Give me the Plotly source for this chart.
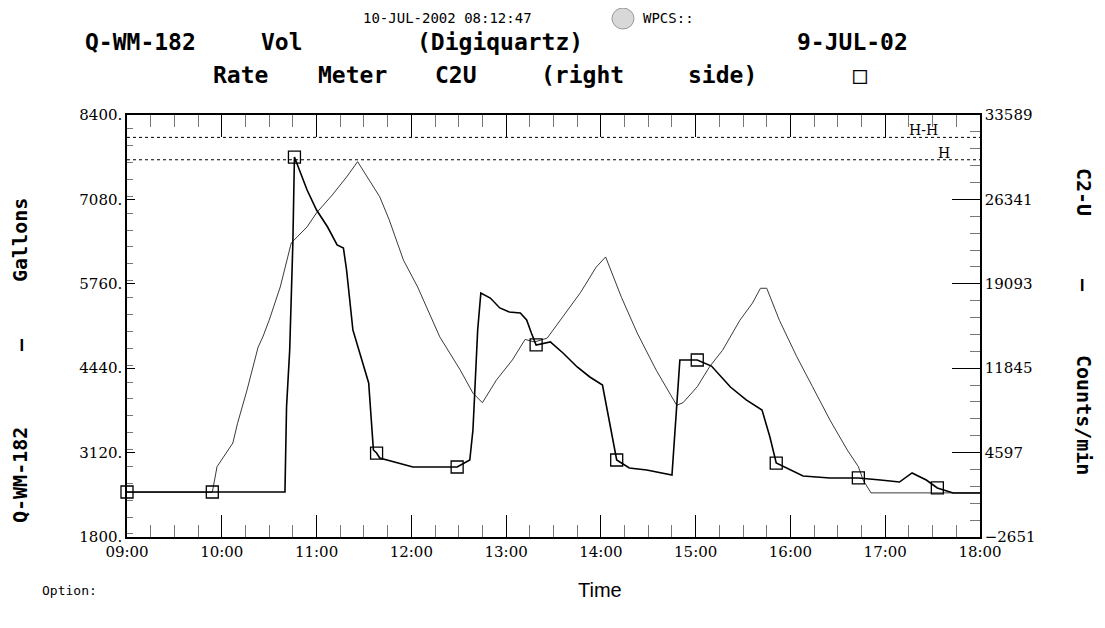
import plotly.graph_objects as go

DAY = "2002-07-09 "

# ---- Q-WM-182 volume (left axis, gallons) ----
vol_times = ["09:00", "09:54", "09:57", "10:07", "10:10", "10:16", "10:23", "10:26", "10:30",
             "10:37", "10:44", "10:54", "11:00", "11:10", "11:19", "11:26", "11:40", "11:46",
             "11:55", "12:04", "12:18", "12:31", "12:39", "12:45", "12:54", "13:04", "13:12",
             "13:18", "13:26", "13:36", "13:47", "13:57", "14:03", "14:13", "14:23", "14:35",
             "14:48", "14:52", "15:01", "15:09", "15:17", "15:28", "15:36", "15:41", "15:45",
             "15:53", "16:04", "16:14", "16:25", "16:36", "16:43", "16:46", "16:51", "18:00"]
vol_gallons = [2500, 2500, 2900, 3270, 3580, 4100, 4770, 4930, 5190,
               5710, 6400, 6650, 6870, 7150, 7430, 7670, 7120, 6760,
               6130, 5710, 4930, 4410, 4050, 3900, 4260, 4570, 4890,
               4850, 4910, 5240, 5620, 6020, 6180, 5550, 4990, 4410,
               3860, 3900, 4150, 4470, 4720, 5190, 5460, 5690, 5690,
               5190, 4620, 4150, 3630, 3160, 2900, 2690, 2490, 2490]

# ---- C2U rate meter (right axis, counts/min) ----
rate_times = ["09:00", "09:54", "10:40", "10:41", "10:43", "10:45", "10:46", "10:54", "11:00",
              "11:07", "11:13", "11:17", "11:19", "11:23", "11:29", "11:33", "11:36", "11:38",
              "11:40", "12:01", "12:18", "12:29", "12:37", "12:39", "12:40", "12:42", "12:44",
              "12:50", "12:56", "13:02", "13:09", "13:13", "13:16", "13:19", "13:28", "13:36",
              "13:45", "13:53", "14:01", "14:04", "14:07", "14:10", "14:18", "14:29", "14:45",
              "14:48", "14:50", "15:01", "15:10", "15:22", "15:32", "15:42", "15:47", "15:51",
              "16:00", "16:08", "16:25", "16:43", "16:57", "17:09", "17:17", "17:26", "17:33",
              "17:43", "18:00"]
rate_counts = [1214, 1214, 1214, 8500, 13400, 22600, 29980, 27150, 25430,
               23970, 22430, 22170, 20280, 15130, 12290, 10580, 4820, 4560,
               4130, 3360, 3360, 3360, 3960, 6540, 9370, 15130, 18300,
               17870, 17020, 16670, 16590, 15990, 14870, 13840, 14100, 13150,
               11950, 11090, 10400, 8260, 5940, 3960, 3280, 3100, 2670,
               8510, 12550, 12550, 12030, 10230, 9120, 8260, 5940, 3700,
               3100, 2590, 2420, 2420, 2240, 2070, 2850, 2240, 1560,
               1130, 1130]

mark_times = ["09:00", "09:54", "10:46", "11:38", "12:29", "13:19", "14:10", "15:01",
              "15:51", "16:43", "17:33"]
mark_counts = [1214, 1214, 29980, 4560, 3360, 13840, 3960, 12550, 3700, 2420, 1560]

# alarm limits (left axis, gallons)
limit_names = ["H-H", "H"]
limit_values = [8050, 7700]

# page body margin of the browser (8px) shifts the figure; compensate
OFF = 8
W, H = 1105 - OFF, 628 - OFF
# plot-area edges in screenshot pixels
L, R, T, B = 127, 980, 115, 537


def px(x):
    return (x - L) / (R - L)


def py(y):
    return (B - y) / (B - T)


fig = go.Figure()
fig.add_trace(go.Scatter(
    x=[DAY + t for t in vol_times], y=vol_gallons, mode="lines",
    line=dict(color="#3a3a3a", width=1), name="Q-WM-182 Vol", yaxis="y"))
fig.add_trace(go.Scatter(
    x=[DAY + t for t in rate_times], y=rate_counts, mode="lines",
    line=dict(color="black", width=1.6), name="Rate Meter C2U", yaxis="y2"))
fig.add_trace(go.Scatter(
    x=[DAY + t for t in mark_times], y=mark_counts, mode="markers",
    marker=dict(symbol="square-open", size=12, color="black", line=dict(width=1.3)),
    cliponaxis=False, yaxis="y2", showlegend=False))

tick_font = dict(family="DejaVu Serif", size=15, color="black")

fig.update_layout(
    width=W, height=H,
    margin=dict(l=L - OFF, r=W - (R - OFF), t=T - OFF, b=H - (B - OFF), pad=0),
    paper_bgcolor="white", plot_bgcolor="white",
    showlegend=False,
    xaxis=dict(
        type="date",
        range=[DAY + "09:00", DAY + "18:00"],
        tickmode="linear", tick0=DAY + "09:00", dtick=3600000,
        tickformat="%H:%M",
        ticks="inside", ticklen=22, tickwidth=1.3, tickcolor="black",
        minor=dict(dtick=900000, ticks="inside", ticklen=12, tickwidth=1, tickcolor="#777"),
        showline=True, linecolor="black", linewidth=1.5, mirror="ticks",
        showgrid=False, zeroline=False, tickfont=tick_font),
    yaxis=dict(
        range=[1800, 8400], tickmode="linear", tick0=1800, dtick=1320,
        ticksuffix=".", tickformat="d", ticks="inside", ticklen=8, tickcolor="black",
        minor=dict(dtick=264, ticks="inside", ticklen=6, tickcolor="#777"),
        showline=True, linecolor="black", linewidth=1.5,
        showgrid=False, zeroline=False, tickfont=tick_font),
    yaxis2=dict(
        range=[-2651, 33589], overlaying="y", side="right",
        tickmode="linear", tick0=-2651, dtick=7248, tickformat="d",
        ticks="inside", ticklen=28, tickcolor="black",
        minor=dict(tick0=-2651, dtick=1449.6, ticks="inside", ticklen=10, tickcolor="#777"),
        showline=True, linecolor="black", linewidth=1.5,
        showgrid=False, zeroline=False, tickfont=tick_font),
)

for name, val in zip(limit_names, limit_values):
    fig.add_shape(type="line", xref="paper", x0=0, x1=1, yref="y", y0=val, y1=val,
                  line=dict(color="black", width=1, dash="dot"))
fig.add_annotation(x=px(940), y=limit_values[0], xref="paper", yref="y", text=limit_names[0],
                   showarrow=False, yanchor="bottom", yshift=-3,
                   font=dict(family="DejaVu Serif", size=14, color="black"))
fig.add_annotation(x=px(952), y=limit_values[1], xref="paper", yref="y", text=limit_names[1],
                   showarrow=False, yanchor="bottom", yshift=-3,
                   font=dict(family="DejaVu Serif", size=14, color="black"))

mono = "DejaVu Sans Mono"


def label(text, x, y, size, family=mono, bold=False, angle=0, color="black"):
    fig.add_annotation(x=px(x), y=py(y), xref="paper", yref="paper", text=text,
                       showarrow=False, xanchor="center", yanchor="middle", textangle=angle,
                       font=dict(family=family, size=size, color=color,
                                 weight="bold" if bold else "normal"))


# header line 1
label("10-JUL-2002 08:12:47", 447, 18, 14)
label("WPCS::", 668, 18, 14)
# header line 2
for w, cx in [("Q-WM-182", 140), ("Vol", 282), ("(Digiquartz)", 500), ("9-JUL-02", 852)]:
    label(w, cx, 42, 23, bold=True)
# header line 3
for w, cx in [("Rate", 240), ("Meter", 352), ("C2U", 456), ("(right", 582), ("side)", 722), ("□", 860)]:
    label(w, cx, 75, 23, bold=True)

# left axis title (reads bottom to top)
label("Q-WM-182", 20, 475, 20, bold=True, angle=-90)
label("—", 20, 345, 20, bold=True, angle=-90)
label("Gallons", 20, 240, 20, bold=True, angle=-90)
# right axis title (reads top to bottom)
label("C2-U", 1084, 192, 20, bold=True, angle=90)
label("—", 1084, 285, 20, bold=True, angle=90)
label("Counts/min", 1084, 415, 20, bold=True, angle=90)

label("Time", 600, 590, 20, family="Arial, Liberation Sans")
fig.add_annotation(x=px(40), y=py(590), xref="paper", yref="paper", text="Option:",
                   showarrow=False, xanchor="left", yanchor="middle",
                   font=dict(family=mono, size=13, color="black"))

# scan blemish next to the timestamp
fig.add_shape(type="circle", xref="paper", yref="paper",
              x0=px(612), x1=px(634), y0=py(29), y1=py(8),
              fillcolor="#d8d8d8", line=dict(color="#999", width=1))

fig.write_html("out.html")
